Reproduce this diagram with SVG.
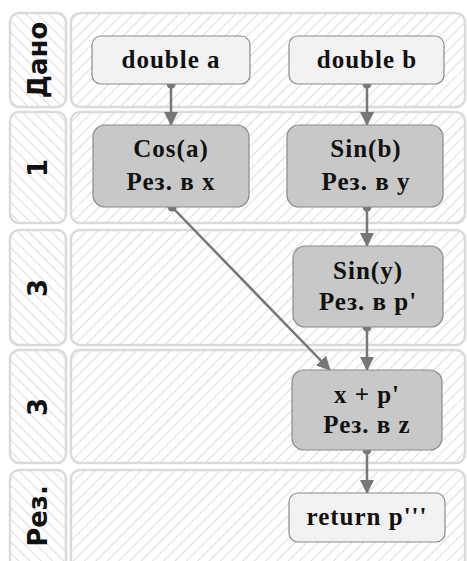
<svg xmlns="http://www.w3.org/2000/svg" width="467" height="561" viewBox="0 0 467 561">
<defs>
<pattern id="hl" patternUnits="userSpaceOnUse" width="8" height="8" patternTransform="rotate(-45)">
<rect width="8" height="8" fill="#fff"/><line x1="0" y1="0" x2="0" y2="8" stroke="#dcdcdc" stroke-width="2"/>
</pattern>
<pattern id="hr" patternUnits="userSpaceOnUse" width="8" height="8" patternTransform="rotate(45)">
<rect width="8" height="8" fill="#fff"/><line x1="0" y1="0" x2="0" y2="8" stroke="#dcdcdc" stroke-width="2"/>
</pattern>
<marker id="ah" markerWidth="14" markerHeight="14" refX="13" refY="7" orient="auto" markerUnits="userSpaceOnUse">
<path d="M0,0 L14,7 L0,14 Z" fill="#777"/>
</marker>
</defs>
<style>
.lab{fill:url(#hl);stroke:#dadada;stroke-width:2.5}
.lane{fill:url(#hr);stroke:#dadada;stroke-width:2.5}
.lt{font-family:"DejaVu Sans",sans-serif;font-weight:bold;font-size:26px;fill:#111;text-anchor:middle}
.n1{fill:#f2f2f2;stroke:#8a8a8a;stroke-width:1.2}
.n2{fill:#c8c8c8;stroke:#8a8a8a;stroke-width:1.2}
.nt{font-family:"Liberation Serif",serif;font-weight:bold;font-size:25px;letter-spacing:1px;fill:#111;text-anchor:middle}
.c{stroke:#777;stroke-width:2.5;fill:none;marker-end:url(#ah)}
.d{fill:#777}
</style>
<g id="lanes">
<rect class="lab" x="10" y="13" width="56" height="94" rx="9"/>
<rect class="lane" x="71" y="13" width="394" height="94" rx="9"/>
<rect class="lab" x="10" y="112" width="56" height="111" rx="9"/>
<rect class="lane" x="71" y="112" width="394" height="111" rx="9"/>
<rect class="lab" x="10" y="230" width="56" height="115" rx="9"/>
<rect class="lane" x="71" y="230" width="394" height="115" rx="9"/>
<rect class="lab" x="10" y="350" width="56" height="113" rx="9"/>
<rect class="lane" x="71" y="350" width="394" height="113" rx="9"/>
<rect class="lab" x="10" y="470" width="56" height="100" rx="9"/>
<rect class="lane" x="71" y="470" width="394" height="100" rx="9"/>
<text class="lt" transform="translate(47,60) rotate(-90)">Дано</text>
<text class="lt" transform="translate(47,168) rotate(-90)">1</text>
<text class="lt" transform="translate(47,288) rotate(-90)">3</text>
<text class="lt" transform="translate(47,407) rotate(-90)">3</text>
<text class="lt" transform="translate(47,516) rotate(-90)">Рез.</text>
</g>
<g id="connectors">
<line class="c" x1="171" y1="84" x2="171" y2="125"/>
<line class="c" x1="367" y1="84" x2="367" y2="125"/>
<line class="c" x1="367" y1="207" x2="367" y2="246"/>
<line class="c" x1="367" y1="327" x2="367" y2="370"/>
<line class="c" x1="172" y1="207" x2="330" y2="370"/>
<line class="c" x1="367" y1="450" x2="367" y2="493"/>
<circle class="d" cx="171" cy="84" r="4.5"/>
<circle class="d" cx="367" cy="84" r="4.5"/>
<circle class="d" cx="172" cy="207" r="4.5"/>
<circle class="d" cx="367" cy="207" r="4.5"/>
<circle class="d" cx="367" cy="327" r="4.5"/>
<circle class="d" cx="367" cy="450" r="4.5"/>
</g>
<g id="double_a"><rect class="n1" x="92" y="36" width="158" height="48" rx="9"/><text class="nt" x="171" y="68">double a</text></g>
<g id="double_b"><rect class="n1" x="289" y="36" width="155" height="48" rx="9"/><text class="nt" x="367" y="68">double b</text></g>
<g id="cos_a"><rect class="n2" x="93" y="125" width="156" height="82" rx="12"/><text class="nt" x="171" y="157">Cos(a)</text><text class="nt" x="171" y="190">Рез. в x</text></g>
<g id="sin_b"><rect class="n2" x="287" y="125" width="156" height="82" rx="12"/><text class="nt" x="366" y="157">Sin(b)</text><text class="nt" x="366" y="190">Рез. в y</text></g>
<g id="sin_y"><rect class="n2" x="293" y="246" width="150" height="81" rx="12"/><text class="nt" x="368" y="279">Sin(y)</text><text class="nt" x="368" y="310">Рез. в p'</text></g>
<g id="sum"><rect class="n2" x="292" y="370" width="150" height="80" rx="12"/><text class="nt" x="367" y="403">x + p'</text><text class="nt" x="367" y="433">Рез. в z</text></g>
<g id="ret"><rect class="n1" x="289" y="493" width="156" height="49" rx="9"/><text class="nt" x="367" y="525">return p'''</text></g>
</svg>
